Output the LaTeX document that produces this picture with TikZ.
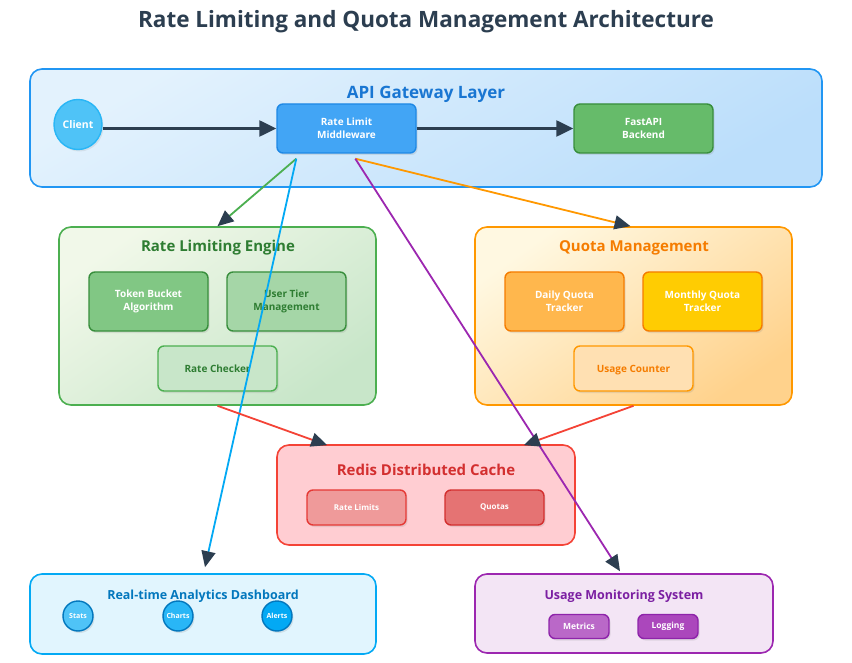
\documentclass[tikz,border=0pt]{standalone}
\usepackage{fontspec}
\setmainfont{Open Sans}
\usetikzlibrary{arrows.meta,shadows,calc,shapes.geometric}
\definecolor{arrowdark}{HTML}{2C3E50}
\definecolor{titlec}{HTML}{2C3E50}
\begin{document}
\begin{tikzpicture}[x=1pt,y=-1pt,
  layer/.style={draw, line width=1.6pt, rounded corners=12pt, inner sep=0pt},
  inbox/.style={draw, line width=1.4pt, rounded corners=6pt, inner sep=0pt, align=center,
     font=\fontsize{10}{13}\selectfont\bfseries,
     drop shadow={opacity=0.18, shadow xshift=1.5pt, shadow yshift=-2pt}},
  ltitle/.style={font=\fontsize{15}{18}\selectfont\bfseries, inner sep=0pt},
  dot/.style={circle, draw, line width=1.4pt, minimum size=30pt, inner sep=0pt,
     font=\fontsize{7}{8}\selectfont\bfseries, text=white,
     drop shadow={opacity=0.18, shadow xshift=1.5pt, shadow yshift=-2pt}},
  conn/.style={line width=1.8pt, -{Triangle[length=16pt,width=14pt,color=arrowdark]}},
  mainconn/.style={line width=2.4pt, color=arrowdark, -{Triangle[length=17pt,width=16pt,color=arrowdark]}},
]
\useasboundingbox (0,0) rectangle (852,663);
\fill[white] (0,0) rectangle (852,663);

% title
\node[font=\fontsize{22.5}{26}\selectfont\bfseries, text=titlec] (title) at (426,22) {Rate Limiting and Quota Management Architecture};

% API gateway layer
\node[layer, draw={rgb,255:red,33;green,150;blue,243}, minimum width=792pt, minimum height=118pt,
  top color={rgb,255:red,227;green,242;blue,253}, bottom color={rgb,255:red,187;green,222;blue,251}, shading angle=30] (gw) at (426,128) {};
\node[ltitle, font=\fontsize{17}{20}\selectfont\bfseries, text={rgb,255:red,25;green,118;blue,210}] (gwt) at (426,94) {API Gateway Layer};
\node[ellipse, draw={rgb,255:red,41;green,182;blue,246}, fill={rgb,255:red,79;green,195;blue,247}, line width=1.4pt,
  minimum width=48pt, minimum height=50pt, inner sep=0pt, text=white, font=\fontsize{10.5}{12}\selectfont\bfseries,
  drop shadow={opacity=0.15, shadow xshift=1.5pt, shadow yshift=-2pt}] (client) at (78,124.5) {Client};
\node[inbox, draw={rgb,255:red,30;green,136;blue,229}, fill={rgb,255:red,66;green,165;blue,245}, text=white,
  minimum width=139pt, minimum height=49pt] (rlm) at (346.5,128.5) {Rate Limit\\Middleware};
\node[inbox, draw={rgb,255:red,56;green,142;blue,60}, fill={rgb,255:red,102;green,187;blue,106}, text=white,
  minimum width=139pt, minimum height=49pt] (fast) at (643.5,128.5) {FastAPI\\Backend};

% Rate limiting engine
\node[layer, draw={rgb,255:red,76;green,175;blue,80}, minimum width=317pt, minimum height=178pt,
  top color={rgb,255:red,241;green,248;blue,233}, bottom color={rgb,255:red,200;green,230;blue,201}, shading angle=35] (rle) at (217.5,316) {};
\node[ltitle, text={rgb,255:red,46;green,125;blue,50}] (rlet) at (218,248) {Rate Limiting Engine};
\node[inbox, draw={rgb,255:red,56;green,142;blue,60}, fill={rgb,255:red,129;green,199;blue,132}, text=white,
  minimum width=119pt, minimum height=59pt] (tb) at (148.5,301.5) {Token Bucket\\Algorithm};
\node[inbox, draw={rgb,255:red,56;green,142;blue,60}, fill={rgb,255:red,165;green,214;blue,167}, text={rgb,255:red,46;green,125;blue,50},
  minimum width=119pt, minimum height=59pt] (ut) at (286.5,301.5) {User Tier\\Management};
\node[inbox, draw={rgb,255:red,76;green,175;blue,80}, fill={rgb,255:red,200;green,230;blue,201}, text={rgb,255:red,46;green,125;blue,50},
  minimum width=119pt, minimum height=45pt, text depth=0pt] (rc) at (217.5,368.5) {Rate Checker};

% Quota management
\node[layer, draw={rgb,255:red,255;green,152;blue,0}, minimum width=317pt, minimum height=178pt,
  top color={rgb,255:red,255;green,248;blue,225}, bottom color={rgb,255:red,255;green,210;blue,140}, shading angle=35] (qm) at (633.5,316) {};
\node[ltitle, text={rgb,255:red,245;green,124;blue,0}] (qmt) at (634,248) {Quota Management};
\node[inbox, draw={rgb,255:red,245;green,124;blue,0}, fill={rgb,255:red,255;green,183;blue,77}, text=white,
  minimum width=119pt, minimum height=59pt] (dq) at (564.5,301.5) {Daily Quota\\Tracker};
\node[inbox, draw={rgb,255:red,245;green,124;blue,0}, fill={rgb,255:red,255;green,204;blue,2}, text=white,
  minimum width=119pt, minimum height=59pt] (mq) at (702.5,301.5) {Monthly Quota\\Tracker};
\node[inbox, draw={rgb,255:red,255;green,152;blue,0}, fill={rgb,255:red,255;green,224;blue,178}, text={rgb,255:red,245;green,124;blue,0},
  minimum width=119pt, minimum height=45pt, text depth=0pt] (uc) at (633.5,368.5) {Usage Counter};

% Redis
\node[layer, draw={rgb,255:red,244;green,67;blue,54}, fill={rgb,255:red,255;green,205;blue,210}, minimum width=298pt, minimum height=100pt] (redis) at (426,495) {};
\node[ltitle, text={rgb,255:red,211;green,47;blue,47}] (redist) at (426,470) {Redis Distributed Cache};
\node[inbox, draw={rgb,255:red,229;green,57;blue,53}, fill={rgb,255:red,239;green,154;blue,154}, text=white,
  font=\fontsize{8}{10}\selectfont\bfseries, minimum width=99pt, minimum height=35pt] (rl) at (356.5,507.5) {Rate Limits};
\node[inbox, draw={rgb,255:red,211;green,47;blue,47}, fill={rgb,255:red,229;green,115;blue,115}, text=white,
  font=\fontsize{8}{10}\selectfont\bfseries, minimum width=99pt, minimum height=35pt] (qu) at (494.5,507.5) {Quotas};

% Analytics
\node[layer, draw={rgb,255:red,3;green,169;blue,244}, fill={rgb,255:red,225;green,245;blue,254}, minimum width=346pt, minimum height=80pt] (ana) at (203,614) {};
\node[ltitle, font=\fontsize{12.5}{15}\selectfont\bfseries, text={rgb,255:red,2;green,119;blue,189}] (anat) at (203,596) {Real-time Analytics Dashboard};
\node[dot, draw={rgb,255:red,2;green,119;blue,189}, fill={rgb,255:red,79;green,195;blue,247}] (stats) at (78,616) {Stats};
\node[dot, draw={rgb,255:red,2;green,119;blue,189}, fill={rgb,255:red,41;green,182;blue,246}] (charts) at (178,616) {Charts};
\node[dot, draw={rgb,255:red,2;green,119;blue,189}, fill={rgb,255:red,3;green,169;blue,244}] (alerts) at (277,616) {Alerts};

% Usage monitoring
\node[layer, draw={rgb,255:red,156;green,39;blue,176}, fill={rgb,255:red,243;green,229;blue,245}, minimum width=298pt, minimum height=79pt] (um) at (624,613.5) {};
\node[ltitle, font=\fontsize{12.5}{15}\selectfont\bfseries, text={rgb,255:red,123;green,31;blue,162}] (umt) at (624,596) {Usage Monitoring System};
\node[inbox, draw={rgb,255:red,142;green,36;blue,170}, fill={rgb,255:red,186;green,104;blue,200}, text=white,
  font=\fontsize{8.5}{10}\selectfont\bfseries, minimum width=60pt, minimum height=24pt] (met) at (579,626.5) {Metrics};
\node[inbox, draw={rgb,255:red,142;green,36;blue,170}, fill={rgb,255:red,171;green,71;blue,188}, text=white,
  font=\fontsize{8.5}{10}\selectfont\bfseries, minimum width=60pt, minimum height=24pt] (log) at (668,626.5) {Logging};

% connector end points
\coordinate (rlmL) at ($(rlm.south west)+(20,5)$);
\coordinate (rlmR) at ($(rlm.south west)+(79,5)$);
\coordinate (anaIn) at ($(ana.north)+(2,-6)$);
\coordinate (umIn) at ($(um.north)+(-4,-2)$);
\coordinate (redisL) at ($(redis.north west)+(51,1)$);
\coordinate (redisR) at ($(redis.north east)+(-52,1)$);
\coordinate (clientOut) at (client.east |- rlm.west);

% connectors
\draw[mainconn] (clientOut) -- (rlm.west);
\draw[mainconn] (rlm.east) -- (fast.west);
\draw[conn, color={rgb,255:red,76;green,175;blue,80}] (rlmL) -- (rle.north);
\draw[conn, color={rgb,255:red,255;green,152;blue,0}] (rlmR) -- ($(qm.north)+(-3,0)$);
\draw[conn, color={rgb,255:red,3;green,169;blue,244}] (rlmL) -- (anaIn);
\draw[conn, color={rgb,255:red,156;green,39;blue,176}] (rlmR) -- (umIn);
\draw[conn, color={rgb,255:red,244;green,67;blue,54}] (rle.south) -- (redisL);
\draw[conn, color={rgb,255:red,244;green,67;blue,54}] (qm.south) -- (redisR);
\end{tikzpicture}
\end{document}
